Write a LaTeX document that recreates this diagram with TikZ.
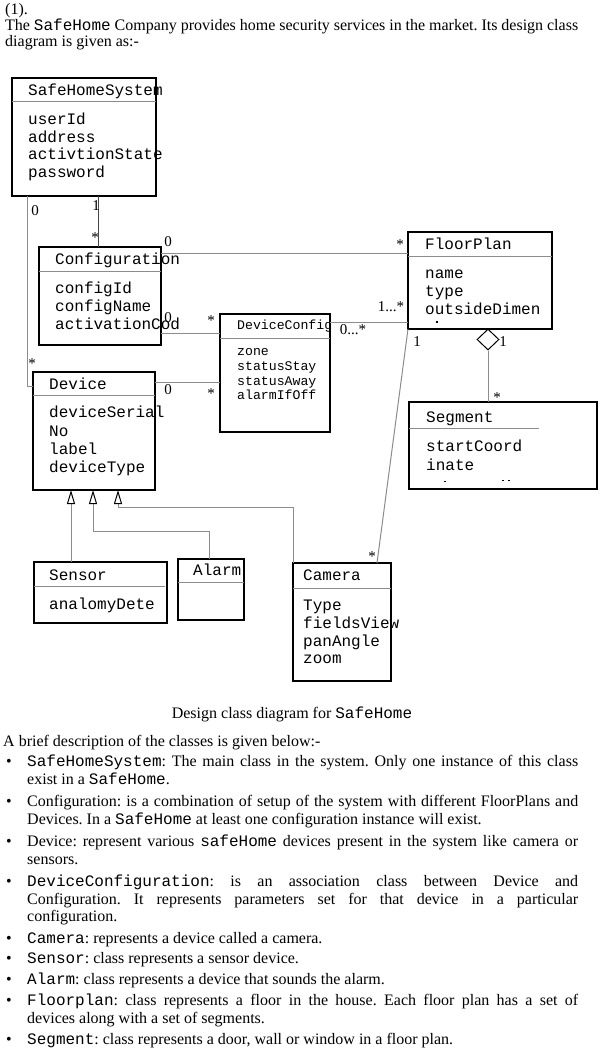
\documentclass[tikz,border=0pt]{standalone}
\usepackage{fontspec}
\setmainfont{Liberation Serif}
\setmonofont{Liberation Mono}
\usetikzlibrary{arrows.meta,calc,shapes.geometric}
\definecolor{lg}{RGB}{140,140,140}
\definecolor{dg}{RGB}{70,70,70}
\newcommand{\clf}{\ttfamily\fontsize{16}{18}\selectfont}
\newcommand{\clsmall}{\ttfamily\fontsize{13.2}{15}\selectfont}
\newcommand{\bodyf}{\rmfamily\fontsize{16}{18}\selectfont\frenchspacing}
\newcommand{\multf}{\rmfamily\fontsize{15}{18}\selectfont}
\begin{document}
\begin{tikzpicture}[x=1pt,y=-1pt,
  box/.style={draw=black, line width=1.3pt, inner sep=0pt, outer sep=0pt},
  sepl/.style={draw=lg, line width=1pt},
  conn/.style={draw=lg, line width=1pt},
  connd/.style={draw=dg, line width=1pt},
  cls/.style={anchor=mid west, inner sep=0pt, font=\clf},
  clss/.style={anchor=mid west, inner sep=0pt, font=\clsmall},
  mult/.style={inner sep=0pt, font=\multf},
  capt/.style={inner sep=0pt, font=\bodyf},
  txt/.style={anchor=mid west, inner sep=0pt, font=\bodyf},
  gen/.style={draw=lg, line width=1pt, -{Triangle[open, length=14pt, width=8pt, color=black, line width=1pt]}}
]
\useasboundingbox (0,0) rectangle (600,1054);
\fill[white] (0,0) rectangle (600,1054);

% ---------- intro text
\node[txt] (t1) at (5,12) {(1).};
\node[txt] (t2) at (5,28) {\makebox[573pt][s]{The \texttt{SafeHome} Company provides home security services in the market. Its design class}};
\node[txt] (t3) at (5,44) {diagram is given as:-};

% ---------- class boxes
\node[box, minimum width=144pt, minimum height=118pt] (shs) at (84,137) {};
\node[box, minimum width=122pt, minimum height=98pt] (cfg) at (100,296) {};
\node[box, minimum width=144pt, minimum height=97pt] (fp) at (480,280.5) {};
\node[box, minimum width=110pt, minimum height=118pt] (dc) at (275,373) {};
\node[box, minimum width=122pt, minimum height=118pt] (dev) at (94,431) {};
\node[box, minimum width=188pt, minimum height=87pt] (seg) at (503,445.5) {};
\node[box, minimum width=133pt, minimum height=61pt] (sen) at (100.5,592.5) {};
\node[box, minimum width=66pt, minimum height=61pt] (alm) at (211,589.5) {};
\node[box, minimum width=98pt, minimum height=118pt] (cam) at (342,622) {};

% separators
\draw[sepl] (shs.west |- 0,102) -- (shs.east |- 0,102);
\draw[sepl] (cfg.west |- 0,271) -- (cfg.east |- 0,271);
\draw[sepl] (fp.west |- 0,256) -- (fp.east |- 0,256);
\draw[sepl] (dc.west |- 0,338) -- (dc.east |- 0,338);
\draw[sepl] (dev.west |- 0,395) -- (dev.east |- 0,395);
\draw[sepl] (seg.west |- 0,428) -- (539,428);
\draw[sepl] (sen.west |- 0,586) -- (165,586);
\draw[sepl] (alm.west |- 0,582) -- (alm.east |- 0,582);
\draw[sepl] (cam.west |- 0,588) -- (cam.east |- 0,588);

% class texts
\node[cls] (shs-n) at (28,93) {SafeHomeSystem};
\node[cls] (shs-1) at (28,122) {userId};
\node[cls] (shs-2) at (28,140) {address};
\node[cls] (shs-3) at (28,157) {activtionState};
\node[cls] (shs-4) at (28,175) {password};

\node[cls] (cfg-n) at (55,262) {Configuration};
\node[cls] (cfg-1) at (55,291) {configId};
\node[cls] (cfg-2) at (55,309) {configName};
\node[cls] (cfg-3) at (55,327) {activationCod};

\node[cls] (fp-n) at (425,247) {FloorPlan};
\node[cls] (fp-1) at (425,276) {name};
\node[cls] (fp-2) at (425,294) {type};
\node[cls] (fp-3) at (425,312) {outsideDimen};
\fill (436,321) rectangle (437.6,322.6);

\node[clss] (dc-n) at (237,327) {DeviceConfig};
\node[clss] (dc-1) at (237,353) {zone};
\node[clss] (dc-2) at (237,368) {statusStay};
\node[clss] (dc-3) at (237,383) {statusAway};
\node[clss] (dc-4) at (237,397) {alarmIfOff};

\node[cls] (dev-n) at (49,387) {Device};
\node[cls] (dev-1) at (49,415) {deviceSerial};
\node[cls] (dev-2) at (49,434) {No};
\node[cls] (dev-3) at (49,452) {label};
\node[cls] (dev-4) at (49,470) {deviceType};

\node[cls] (seg-n) at (426,420) {Segment};
\node[cls] (seg-1) at (426,449) {startCoord};
\node[cls] (seg-2) at (426,468) {inate};
\fill (444,480.5) rectangle (445.6,482);
\fill (502,479.5) rectangle (503.6,481);
\fill (508,479.5) rectangle (509.6,481);

\node[cls] (sen-n) at (49,578) {Sensor};
\node[cls] (sen-1) at (49,607) {analomyDete};

\node[cls] (alm-n) at (193,573) {Alarm};

\node[cls] (cam-n) at (303,578) {Camera};
\node[cls] (cam-1) at (303,608) {Type};
\node[cls] (cam-2) at (303,626) {fieldsView};
\node[cls] (cam-3) at (303,644) {panAngle};
\node[cls] (cam-4) at (303,661) {zoom};

% ---------- connectors
\draw[conn] ($(shs.south west)+(15,0)$) |- ($(dev.north west)+(0,14)$);
\draw[connd] ($(shs.south west)+(86,0)$) -- ($(cfg.north west)+(59,0)$);
\draw[conn] ($(cfg.north east)+(0,6)$) -- ($(fp.north west)+(0,21)$);
\draw[conn] ($(cfg.south east)+(0,-12)$) -- ($(dc.north west)+(0,19)$);
\draw[conn] ($(dev.north east)+(0,10)$) -- ($(dc.north west)+(0,68)$);
\draw[conn] ($(dc.north east)+(0,8)$) -- ($(fp.south west)+(0,-7)$);
\draw[conn] (fp.south west) -- ($(cam.north east)+(-14,0)$);
\node[diamond, draw=black, line width=1pt, fill=white, inner sep=0pt, minimum width=22pt, minimum height=21pt] (dia) at (488,339.5) {};
\draw[conn] (dia.south) -- (seg.north -| dia.south);

% generalizations
\coordinate (alm-k) at (93,531);
\coordinate (cam-k) at (118,507);
\draw[gen] (sen.north -| 71,0) -- (dev.south -| 71,0);
\draw[gen] (alm.north -| 209,0) |- (alm-k) -- (alm-k |- dev.south);
\draw[gen] (cam.north west) |- (cam-k) -- (cam-k |- dev.south);

% multiplicities
\node[mult] (m1) at (35,211) {0};
\node[mult] (m2) at (96,206) {1};
\node[mult] (m3) at (95,238) {*};
\node[mult] (m4) at (168,242) {0};
\node[mult] (m5) at (400,245) {*};
\node[mult] (m6) at (168,318) {0};
\node[mult] (m7) at (211,321) {*};
\node[mult] (m8) at (391,307) {1...*};
\node[mult] (m9) at (353,330) {0...*};
\node[mult] (m10) at (168,390) {0};
\node[mult] (m11) at (211,394) {*};
\node[mult] (m12) at (32,364) {*};
\node[mult] (m13) at (417,342) {1};
\node[mult] (m14) at (503,342) {1};
\node[mult] (m15) at (497,398) {*};
\node[mult] (m16) at (372,557) {*};

% ---------- caption and description
\node[capt] (cap) at (292,714) {Design class diagram for \texttt{SafeHome}};
\node[txt] (d0) at (3,744) {A brief description of the classes is given below:-};

\node[txt] (u1) at (6,764) {•};
\node[txt] (d1a) at (27,764) {\makebox[551pt][s]{\texttt{SafeHomeSystem}: The main class in the system. Only one instance of this class}};
\node[txt] (d1b) at (27,782) {exist in a \texttt{SafeHome}.};
\node[txt] (u2) at (6,804) {•};
\node[txt] (d2a) at (27,804) {\makebox[551pt][s]{Configuration: is a combination of setup of the system with different FloorPlans and}};
\node[txt] (d2b) at (27,822) {Devices. In a \texttt{SafeHome} at least one configuration instance will exist.};
\node[txt] (u3) at (6,844) {•};
\node[txt] (d3a) at (27,844) {\makebox[551pt][s]{Device: represent various \texttt{safeHome} devices present in the system like camera or}};
\node[txt] (d3b) at (27,862) {sensors.};
\node[txt] (u4) at (6,884) {•};
\node[txt] (d4a) at (27,884) {\makebox[551pt][s]{\texttt{DeviceConfiguration}: is an association class between Device and}};
\node[txt] (d4b) at (27,902) {\makebox[551pt][s]{Configuration. It represents parameters set for that device in a particular}};
\node[txt] (d4c) at (27,919) {configuration.};
\node[txt] (u5) at (6,941) {•};
\node[txt] (d5) at (27,941) {\texttt{Camera}: represents a device called a camera.};
\node[txt] (u6) at (6,961) {•};
\node[txt] (d6) at (27,961) {\texttt{Sensor}: class represents a sensor device.};
\node[txt] (u7) at (6,982) {•};
\node[txt] (d7) at (27,982) {\texttt{Alarm}: class represents a device that sounds the alarm.};
\node[txt] (u8) at (6,1003) {•};
\node[txt] (d8a) at (27,1003) {\makebox[551pt][s]{\texttt{Floorplan}: class represents a floor in the house. Each floor plan has a set of}};
\node[txt] (d8b) at (27,1021) {devices along with a set of segments.};
\node[txt] (u9) at (6,1042) {•};
\node[txt] (d9) at (27,1042) {\texttt{Segment}: class represents a door, wall or window in a floor plan.};
\end{tikzpicture}
\end{document}
